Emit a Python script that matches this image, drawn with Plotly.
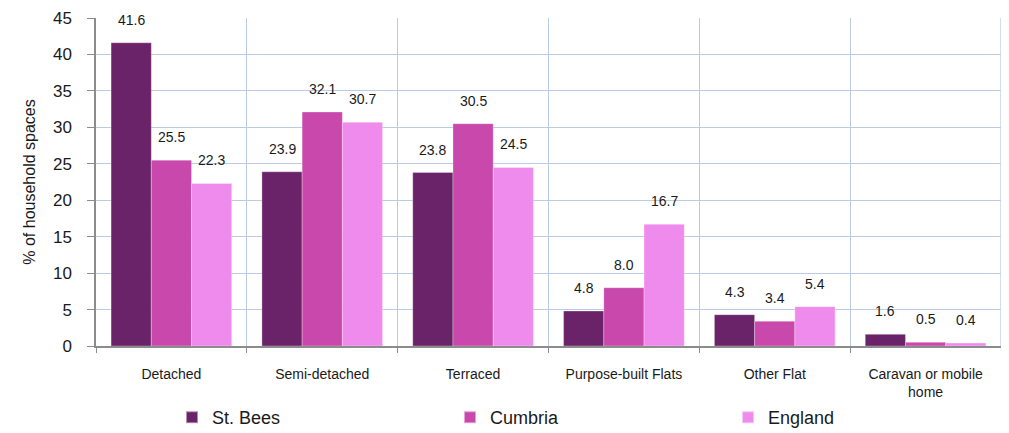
import plotly.graph_objects as go

categories = ["Detached", "Semi-detached", "Terraced", "Purpose-built Flats", "Other Flat", "Caravan or mobile<br>home"]
series_names = ["St. Bees", "Cumbria", "England"]
st_bees = [41.6, 23.9, 23.8, 4.8, 4.3, 1.6]
cumbria = [25.5, 32.1, 30.5, 8.0, 3.4, 0.5]
england = [22.3, 30.7, 24.5, 16.7, 5.4, 0.4]
colors = ["#6A2368", "#C848AC", "#F08BEE"]
y_ticks = list(range(0, 46, 5))

all_values = [st_bees, cumbria, england]
font_family = "Liberation Sans, Arial, sans-serif"

fig = go.Figure()
for name, vals, col in zip(series_names, all_values, colors):
    fig.add_trace(go.Bar(
        name=name, x=categories, y=vals,
        marker=dict(color=col, line=dict(color="rgba(255,255,255,0.5)", width=0.6)),
    ))

bargap = 0.2
n = len(series_names)
w = (1 - bargap) / n
annotations = []
for j, vals in enumerate(all_values):
    for i, v in enumerate(vals):
        annotations.append(dict(
            x=i + (j - (n - 1) / 2) * w, y=v, xref="x", yref="y",
            text=f"{v:.1f}", showarrow=False, yanchor="bottom", yshift=13,
            font=dict(size=14, color="#1a1a1a", family=font_family),
        ))

fig.update_layout(
    width=1001, height=425,
    margin=dict(l=88, r=8, t=10, b=87, autoexpand=False),
    plot_bgcolor="white", paper_bgcolor="white",
    barmode="group", bargap=bargap, bargroupgap=0,
    font=dict(family=font_family, color="#1a1a1a"),
    annotations=annotations,
    showlegend=True,
    legend=dict(
        orientation="h", x=0.084, xanchor="left", y=-0.218, yanchor="middle",
        entrywidth=233, entrywidthmode="pixels",
        font=dict(size=18, family=font_family), itemsizing="constant",
        tracegroupgap=0,
    ),
)
fig.update_xaxes(
    type="category", tickson="boundaries", automargin=False,
    showgrid=True, gridcolor="#B9CCE4", gridwidth=1.3,
    showline=True, linecolor="#8C8C8C", linewidth=1.5,
    ticks="outside", tickcolor="#8C8C8C", ticklen=5,
    tickfont=dict(size=14, family=font_family),
    ticklabelstandoff=14,
    mirror=False,
)
fig.update_yaxes(
    range=[0, 45], tickvals=y_ticks, automargin=False,
    ticklabeloverflow="allow",
    showgrid=True, gridcolor="#B9CCE4", gridwidth=1.3,
    showline=True, linecolor="#8C8C8C", linewidth=1.5,
    ticks="outside", tickcolor="#8C8C8C", ticklen=7,
    tickfont=dict(size=17, family=font_family),
    ticklabelstandoff=12,
    title=dict(text="% of household spaces", font=dict(size=16, family=font_family), standoff=13),
    zeroline=False,
)
fig.add_shape(type="line", xref="paper", yref="paper", x0=1, x1=1, y0=0, y1=1,
              line=dict(color="#B9CCE4", width=1.3))

fig.write_html("out.html")
